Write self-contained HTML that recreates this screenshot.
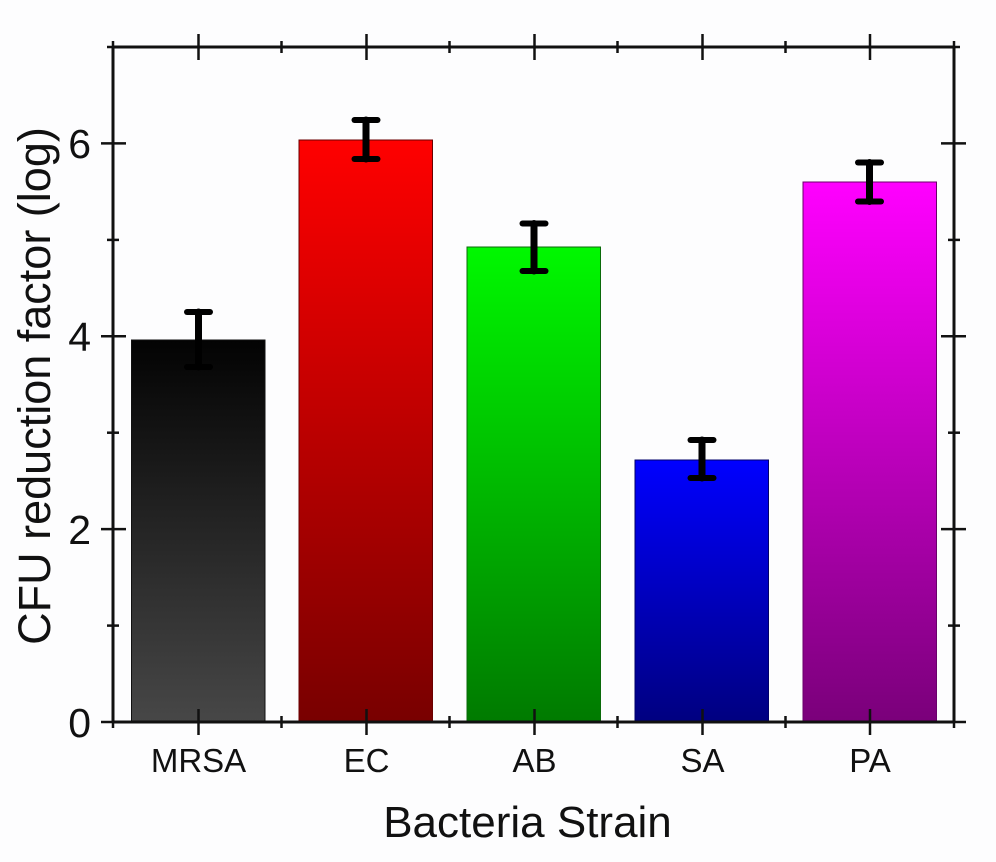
<!DOCTYPE html>
<html>
<head>
<meta charset="utf-8">
<style>
  html,body{margin:0;padding:0;background:#fdfdfe;}
  svg{display:block;}
  text{font-family:"Liberation Sans",Arial,sans-serif;fill:#111;}
</style>
</head>
<body>
<svg width="996" height="862" viewBox="0 0 996 862" xmlns="http://www.w3.org/2000/svg">
  <defs>
    <linearGradient id="gK" x1="0" y1="0" x2="0" y2="1">
      <stop offset="0" stop-color="#030303"/>
      <stop offset="1" stop-color="#474747"/>
    </linearGradient>
    <linearGradient id="gR" x1="0" y1="0" x2="0" y2="1">
      <stop offset="0" stop-color="#ff0000"/>
      <stop offset="1" stop-color="#780000"/>
    </linearGradient>
    <linearGradient id="gG" x1="0" y1="0" x2="0" y2="1">
      <stop offset="0" stop-color="#00f800"/>
      <stop offset="1" stop-color="#007a00"/>
    </linearGradient>
    <linearGradient id="gB" x1="0" y1="0" x2="0" y2="1">
      <stop offset="0" stop-color="#0000ff"/>
      <stop offset="1" stop-color="#000080"/>
    </linearGradient>
    <linearGradient id="gP" x1="0" y1="0" x2="0" y2="1">
      <stop offset="0" stop-color="#ff00ff"/>
      <stop offset="1" stop-color="#7a007a"/>
    </linearGradient>
  </defs>
  <rect width="996" height="862" fill="#fdfdfe"/>

  <!-- bars -->
  <rect x="131.5" y="340" width="133.5" height="382" fill="url(#gK)" stroke="#111" stroke-width="1"/>
  <rect x="299" y="140" width="133.5" height="582" fill="url(#gR)" stroke="#6a0000" stroke-width="1"/>
  <rect x="467" y="247" width="133.5" height="475" fill="url(#gG)" stroke="#0a6a0a" stroke-width="1"/>
  <rect x="635" y="460" width="133.5" height="262" fill="url(#gB)" stroke="#00006a" stroke-width="1"/>
  <rect x="803" y="182" width="133.5" height="540" fill="url(#gP)" stroke="#6a006a" stroke-width="1"/>

  <!-- error bars -->
  <g stroke="#000" fill="none" stroke-linecap="round">
    <line x1="198.5" y1="312" x2="198.5" y2="367" stroke-width="7"/>
    <line x1="187" y1="312" x2="210" y2="312" stroke-width="6"/>
    <line x1="187" y1="367" x2="210" y2="367" stroke-width="6"/>

    <line x1="366" y1="120" x2="366" y2="159" stroke-width="7"/>
    <line x1="354.5" y1="120" x2="377.5" y2="120" stroke-width="6"/>
    <line x1="354.5" y1="159" x2="377.5" y2="159" stroke-width="6"/>

    <line x1="534" y1="223.5" x2="534" y2="271" stroke-width="7"/>
    <line x1="522.5" y1="223.5" x2="545.5" y2="223.5" stroke-width="6"/>
    <line x1="522.5" y1="271" x2="545.5" y2="271" stroke-width="6"/>

    <line x1="702" y1="440" x2="702" y2="478" stroke-width="7"/>
    <line x1="690.5" y1="440" x2="713.5" y2="440" stroke-width="6"/>
    <line x1="690.5" y1="478" x2="713.5" y2="478" stroke-width="6"/>

    <line x1="869.5" y1="162.5" x2="869.5" y2="201.5" stroke-width="7"/>
    <line x1="858" y1="162.5" x2="881" y2="162.5" stroke-width="6"/>
    <line x1="858" y1="201.5" x2="881" y2="201.5" stroke-width="6"/>
  </g>

  <!-- axes frame -->
  <g stroke="#111" stroke-width="3" fill="none">
    <line x1="113" y1="47" x2="113" y2="722"/>
    <line x1="954" y1="47" x2="954" y2="722"/>
    <line x1="113" y1="47" x2="954" y2="47"/>
    <line x1="113" y1="722" x2="954" y2="722"/>
  </g>

  <!-- ticks -->
  <g stroke="#111" stroke-width="2.5" fill="none">
    <line x1="101" y1="722" x2="126" y2="722"/>
    <line x1="101" y1="529.1" x2="126" y2="529.1"/>
    <line x1="101" y1="336.3" x2="126" y2="336.3"/>
    <line x1="101" y1="143.4" x2="126" y2="143.4"/>
    <line x1="941" y1="529.1" x2="966" y2="529.1"/>
    <line x1="941" y1="336.3" x2="966" y2="336.3"/>
    <line x1="941" y1="143.4" x2="966" y2="143.4"/>
    <line x1="941" y1="722" x2="966" y2="722"/>
    <line x1="107" y1="625.6" x2="119" y2="625.6"/>
    <line x1="107" y1="432.7" x2="119" y2="432.7"/>
    <line x1="107" y1="239.9" x2="119" y2="239.9"/>
    <line x1="107" y1="47" x2="119" y2="47"/>
    <line x1="948" y1="625.6" x2="960" y2="625.6"/>
    <line x1="948" y1="432.7" x2="960" y2="432.7"/>
    <line x1="948" y1="239.9" x2="960" y2="239.9"/>
    <line x1="948" y1="47" x2="960" y2="47"/>
    <line x1="198.5" y1="709" x2="198.5" y2="735"/>
    <line x1="366.5" y1="709" x2="366.5" y2="735"/>
    <line x1="534.5" y1="709" x2="534.5" y2="735"/>
    <line x1="702.5" y1="709" x2="702.5" y2="735"/>
    <line x1="870" y1="709" x2="870" y2="735"/>
    <line x1="198.5" y1="34" x2="198.5" y2="60"/>
    <line x1="366.5" y1="34" x2="366.5" y2="60"/>
    <line x1="534.5" y1="34" x2="534.5" y2="60"/>
    <line x1="702.5" y1="34" x2="702.5" y2="60"/>
    <line x1="870" y1="34" x2="870" y2="60"/>
    <line x1="281.5" y1="716" x2="281.5" y2="728"/>
    <line x1="449.5" y1="716" x2="449.5" y2="728"/>
    <line x1="617.5" y1="716" x2="617.5" y2="728"/>
    <line x1="785.5" y1="716" x2="785.5" y2="728"/>
    <line x1="113" y1="716" x2="113" y2="728"/>
    <line x1="954" y1="716" x2="954" y2="728"/>
    <line x1="281.5" y1="41" x2="281.5" y2="53"/>
    <line x1="449.5" y1="41" x2="449.5" y2="53"/>
    <line x1="617.5" y1="41" x2="617.5" y2="53"/>
    <line x1="785.5" y1="41" x2="785.5" y2="53"/>
    <line x1="113" y1="41" x2="113" y2="53"/>
    <line x1="954" y1="41" x2="954" y2="53"/>
  </g>

  <!-- y tick labels -->
  <g font-size="41" text-anchor="end">
    <text x="91" y="737">0</text>
    <text x="91" y="544">2</text>
    <text x="91" y="351">4</text>
    <text x="91" y="158">6</text>
  </g>

  <!-- x category labels -->
  <g font-size="33" text-anchor="middle">
    <text x="198.5" y="772">MRSA</text>
    <text x="366.5" y="772">EC</text>
    <text x="534.5" y="772">AB</text>
    <text x="702.5" y="772">SA</text>
    <text x="870" y="772">PA</text>
  </g>

  <!-- axis titles -->
  <text x="527.5" y="837" font-size="44" text-anchor="middle">Bacteria Strain</text>
  <text transform="translate(50,386) rotate(-90)" x="0" y="0" font-size="45" text-anchor="middle">CFU reduction factor (log)</text>
</svg>
</body>
</html>
